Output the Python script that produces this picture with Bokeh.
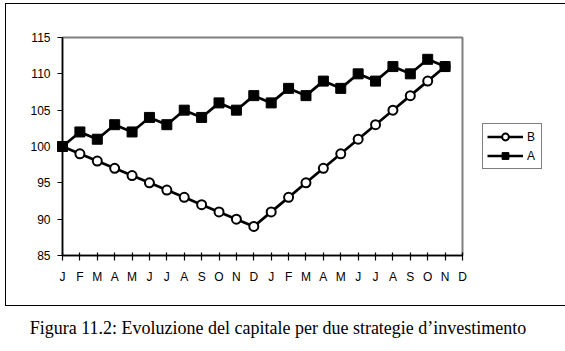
from bokeh.plotting import figure
from bokeh.models import FixedTicker, Legend, LegendItem, Range1d, Div
from bokeh.layouts import column
from bokeh.embed import file_html
from bokeh.resources import INLINE

months = ["J", "F", "M", "A", "M", "J", "J", "A", "S", "O", "N", "D",
          "J", "F", "M", "A", "M", "J", "J", "A", "S", "O", "N", "D"]
series_b = [100, 99, 98, 97, 96, 95, 94, 93, 92, 91, 90, 89,
            91, 93, 95, 97, 99, 101, 103, 105, 107, 109, 111]
series_a = [100, 102, 101, 103, 102, 104, 103, 105, 104, 106, 105, 107,
            106, 108, 107, 109, 108, 110, 109, 111, 110, 112, 111]
y_ticks = [85, 90, 95, 100, 105, 110, 115]
caption = "Figura 11.2: Evoluzione del capitale per due strategie d\u2019investimento"

x_b = list(range(len(series_b)))
x_a = list(range(len(series_a)))
tick_pos = list(range(len(months)))

p = figure(frame_width=398, frame_height=216, output_backend="svg", toolbar_location=None,
           x_range=Range1d(0, len(months) - 1), y_range=Range1d(y_ticks[0], y_ticks[-1]),
           min_border_left=56, min_border_top=33, min_border_right=97, min_border_bottom=52,
           margin=(3, 0, 0, 5), styles={"border": "1px solid black"})
p.grid.visible = False
p.background_fill_color = "white"
p.border_fill_color = "white"
p.outline_line_color = "#808080"
p.outline_line_width = 2

font = "Liberation Sans"
p.xaxis.ticker = FixedTicker(ticks=tick_pos)
p.xaxis.major_label_overrides = {i: m for i, m in enumerate(months)}
p.xaxis.major_tick_in = 3
p.xaxis.major_tick_out = 5
p.xaxis.major_label_standoff = 9
p.yaxis.ticker = FixedTicker(ticks=y_ticks)
p.yaxis.major_tick_in = 0
p.yaxis.major_tick_out = 5
p.yaxis.major_label_standoff = 7
for ax in (p.xaxis, p.yaxis):
    ax.minor_tick_line_color = None
    ax.axis_line_color = "black"
    ax.axis_line_width = 1.5
    ax.major_tick_line_color = "black"
    ax.major_tick_line_width = 1.2
    ax.major_label_text_font = font
    ax.major_label_text_font_size = "12px"
    ax.major_label_text_color = "black"

lb = p.line(x_b, series_b, line_color="black", line_width=2.7, level="overlay")
sb = p.scatter(x_b, series_b, marker="circle", size=9, fill_color="white",
               line_color="black", line_width=2, level="overlay")
la = p.line(x_a, series_a, line_color="black", line_width=2.7, level="overlay")
sa = p.scatter(x_a, series_a, marker="square", size=10, fill_color="black",
               line_color="black", level="overlay")

legend = Legend(items=[LegendItem(label="B", renderers=[lb, sb]),
                       LegendItem(label="A", renderers=[la, sa])],
                location="center_left", border_line_color="black", border_line_width=1,
                padding=4, spacing=2, glyph_width=36, glyph_height=17,
                label_standoff=4, label_width=10, margin=20, label_text_font=font,
                label_text_font_size="12px", label_text_color="black",
                background_fill_alpha=1)
p.add_layout(legend, "right")

cap = Div(text=caption, width=556, margin=(10, 0, 0, 0),
          styles={"text-align": "center", "font-family": "Liberation Serif",
                  "font-size": "18px", "color": "black", "white-space": "nowrap"})

layout = column(p, cap)
open("out.html", "w").write(file_html(layout, INLINE))
